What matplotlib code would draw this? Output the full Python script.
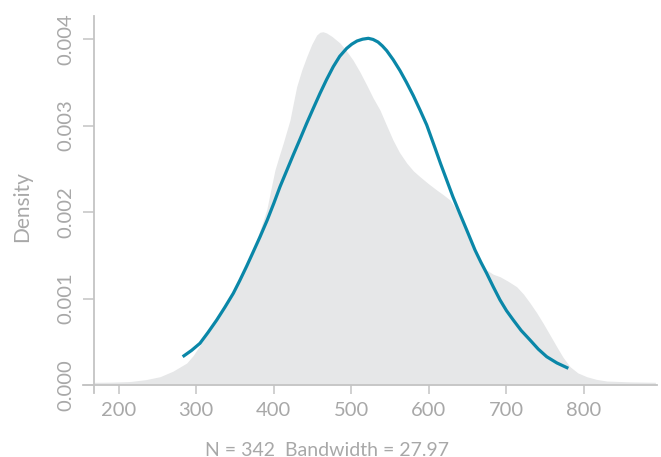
import matplotlib
matplotlib.use("Agg")
import matplotlib.pyplot as plt

# Grey kernel density
dens_x = [168, 190, 214.6, 235, 253.3, 270, 287.7, 296, 304.8, 311, 317.7, 328,
          339.3, 352, 365.1, 374, 382.2, 386.6, 391, 396, 401.5, 407, 412.2,
          416.5, 420.9, 425, 429.5, 436, 442.4, 449, 455.3, 459.5, 463.4, 468,
          475, 485.3, 493.5, 502.1, 511, 519.8, 528, 536.9, 545, 553.7, 562,
          571.4, 580, 588.5, 599, 610.1, 618.5, 627.2, 636, 644.4, 651, 657.3,
          666, 674.5, 683, 691.7, 702, 713.2, 722, 730.4, 739, 747.1, 756,
          764.8, 773, 781.9, 792, 803.5, 816, 829.3, 860, 892]
dens_y = [0.000031, 0.000033, 0.000040, 0.000062, 0.000096, 0.000160, 0.000254,
          0.000340, 0.000460, 0.000545, 0.000636, 0.000785, 0.000948, 0.001150,
          0.001368, 0.001570, 0.001792, 0.001908, 0.002030, 0.002250, 0.002486,
          0.002650, 0.002798, 0.002930, 0.003064, 0.003250, 0.003449, 0.003640,
          0.003795, 0.003940, 0.004046, 0.004078, 0.004084, 0.004070, 0.004030,
          0.003954, 0.003865, 0.003757, 0.003620, 0.003468, 0.003320, 0.003179,
          0.003010, 0.002832, 0.002690, 0.002566, 0.002475, 0.002408, 0.002330,
          0.002254, 0.002200, 0.002139, 0.002020, 0.001873, 0.001720, 0.001561,
          0.001430, 0.001329, 0.001280, 0.001252, 0.001200, 0.001136, 0.001050,
          0.000948, 0.000835, 0.000717, 0.000580, 0.000443, 0.000320, 0.000212,
          0.000140, 0.000096, 0.000065, 0.000046, 0.000036, 0.000031]

# Blue fitted curve
fit_x = [282.5, 294, 304.8, 315, 326.4, 337, 347.8, 356, 365.1, 373, 382.2,
         391.6, 400, 408, 416.5, 425.1, 433.7, 442.4, 451, 459.6, 468, 476.7,
         485, 494, 500.5, 507.3, 514.5, 521.9, 528, 534.4, 540, 545.6, 554,
         562.7, 571, 579.9, 588.5, 597.2, 607.9, 615, 622.9, 631, 640.1, 650,
         659.4, 667, 674.5, 683, 691.7, 700, 708.8, 719, 730.4, 741, 751.9,
         765, 779.8]
fit_y = [0.000327, 0.000400, 0.000482, 0.000605, 0.000751, 0.000900, 0.001060,
         0.001205, 0.001375, 0.001530, 0.001712, 0.001908, 0.002100, 0.002292,
         0.002475, 0.002660, 0.002840, 0.003025, 0.003200, 0.003372, 0.003530,
         0.003680, 0.003800, 0.003892, 0.003940, 0.003977, 0.003998, 0.004008,
         0.003995, 0.003965, 0.003920, 0.003865, 0.003760, 0.003635, 0.003500,
         0.003345, 0.003180, 0.003006, 0.002740, 0.002560, 0.002370, 0.002175,
         0.001977, 0.001765, 0.001561, 0.001420, 0.001291, 0.001135, 0.000983,
         0.000860, 0.000751, 0.000630, 0.000520, 0.000415, 0.000327, 0.000255,
         0.000193]

x_ticks = [200, 300, 400, 500, 600, 700, 800]
y_ticks = [0.000, 0.001, 0.002, 0.003, 0.004]
y_tick_labels = ["0.000", "0.001", "0.002", "0.003", "0.004"]
x_label = "N = 342  Bandwidth = 27.97"
y_label = "Density"

plt.rcParams['font.family'] = ['Lato', 'DejaVu Sans']
txt = '#a8a8a8'
axc = '#c4c4c4'

fig = plt.figure(figsize=(6.61, 4.57), dpi=100)
ax = fig.add_axes([83/661, 1 - 393/457, (657-83)/661, (393-16)/457])

ax.fill_between(dens_x, dens_y, 0, color='#e6e7e8', lw=0)
ax.plot(fit_x, fit_y, color='#0a87a8', lw=2.3, solid_capstyle='butt',
        solid_joinstyle='round')

ax.set_xlim(154.0, 894.1)
ax.set_ylim(-0.0000925, 0.004266)

for s in ['top', 'right']:
    ax.spines[s].set_visible(False)
ax.spines['left'].set_position(('data', 168))
ax.spines['bottom'].set_position(('data', 0))
for s in ['left', 'bottom']:
    ax.spines[s].set_color(axc)
    ax.spines[s].set_linewidth(1.3)

ax.set_xticks(x_ticks)
ax.set_yticks(y_ticks)
ax.set_yticklabels(y_tick_labels, rotation=90, va='center')
ax.tick_params(axis='x', direction='out', length=6.5, width=1.1, color=axc,
               labelcolor=txt, labelsize=14.5, pad=6)
ax.tick_params(axis='y', direction='out', length=8, width=1.1, color=axc,
               labelcolor=txt, labelsize=14.5, pad=6)

fig.text(22/661, 1 - 207/457, y_label, rotation=90, ha='center', va='center',
         color=txt, fontsize=15)
fig.text(327/661, 1 - 450/457, x_label, ha='center', va='center',
         color=txt, fontsize=14)

fig.savefig('out.png', dpi=100)
